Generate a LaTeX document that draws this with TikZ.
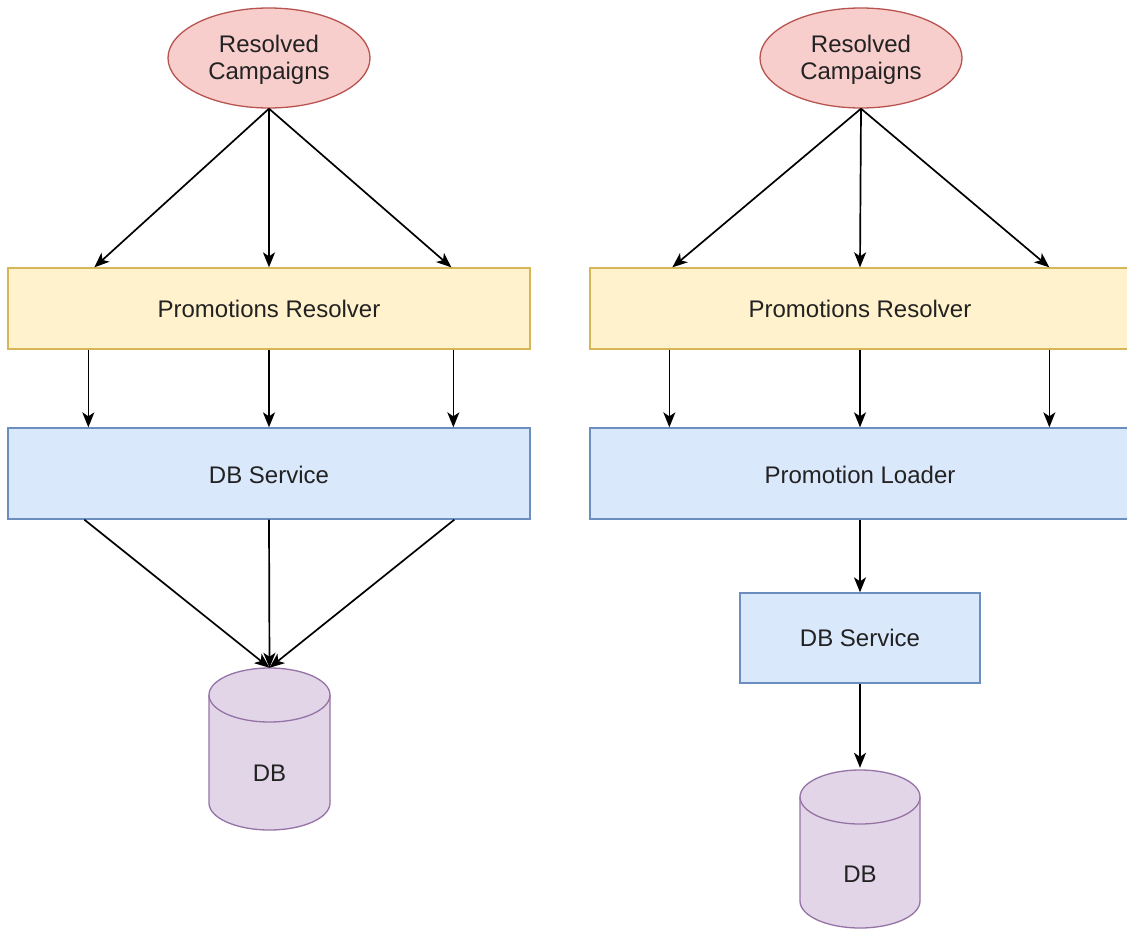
\documentclass[tikz,border=0pt]{standalone}
\usepackage{fontspec}
\setmainfont{Liberation Sans}
\usetikzlibrary{arrows.meta,calc}
\definecolor{redf}{HTML}{F8CECC}\definecolor{redd}{HTML}{B85450}
\definecolor{yelf}{HTML}{FFF2CC}\definecolor{yeld}{HTML}{D6B656}
\definecolor{bluf}{HTML}{DAE8FC}\definecolor{blud}{HTML}{6C8EBF}
\definecolor{purf}{HTML}{E1D5E7}\definecolor{purd}{HTML}{9673A6}
\definecolor{txt}{HTML}{222222}
\tikzset{
  every node/.style={font=\fontsize{24}{27}\selectfont, text=txt},
  campaign/.style={ellipse, draw=redd, fill=redf, line width=1.3pt, minimum width=202pt, minimum height=100pt, align=center, inner sep=0pt},
  resolverbox/.style={rectangle, draw=yeld, fill=yelf, line width=1.3pt, minimum height=81pt, inner sep=0pt},
  servicebox/.style={rectangle, draw=blud, fill=bluf, line width=1.3pt, inner sep=0pt},
  dbnode/.style={rectangle, minimum width=121pt, minimum height=162pt, inner sep=0pt},
  flow/.style={draw=black, line width=1.7pt, -{Stealth[length=15pt,width=12pt,inset=4pt]}},
}
\usetikzlibrary{shapes.geometric}
\newcommand{\drawcyl}[4]{% cx, top, bottom, rx (y up coordinates)
  \filldraw[draw=purd, fill=purf, line width=1.3pt]
    ({#1-#4},{#2-27}) -- ({#1-#4},{#3+27})
    arc[start angle=180, end angle=360, x radius=#4, y radius=27]
    -- ({#1+#4},{#2-27})
    arc[start angle=0, end angle=180, x radius=#4, y radius=27] -- cycle;
  \draw[draw=purd, line width=1.3pt] ({#1-#4},{#2-27})
    arc[start angle=180, end angle=360, x radius=#4, y radius=27];
}
\begin{document}
\begin{tikzpicture}[x=1pt,y=1pt]
\clip (0,0) rectangle (1127,-931);
\fill[white] (0,0) rectangle (1127,-931);

% ---------- left column ----------
\node[campaign] (rc1) at (269,-58) {};
\node at (269,-60) [align=center] {Resolved\\Campaigns};
\node[resolverbox, minimum width=522pt] (pr1) at (269,-308.5) {Promotions Resolver};
\node[servicebox, minimum width=522pt, minimum height=91pt] (ds1) at (269,-473.5) {};
\node at (269,-475) {DB Service};
\drawcyl{269.5}{-668}{-830}{60.5}
\node[dbnode] (db1) at (269.5,-749) {};
\node at (269.5,-773) {DB};

\draw[flow] (rc1.south) -- ([xshift=87pt]pr1.north west);
\draw[flow] (rc1.south) -- (pr1.north);
\draw[flow] (rc1.south) -- ([xshift=444pt]pr1.north west);

\draw[flow] ([xshift=81pt]pr1.south west) -- ([xshift=81pt]ds1.north west);
\draw[flow] (pr1.south) -- (ds1.north);
\draw[flow] ([xshift=446pt]pr1.south west) -- ([xshift=446pt]ds1.north west);

\draw[flow] ([xshift=77pt]ds1.south west) -- (db1.north);
\draw[flow] (ds1.south) -- (db1.north);
\draw[flow] ([xshift=447pt]ds1.south west) -- (db1.north);

% ---------- right column ----------
\node[campaign] (rc2) at (861,-58) {};
\node at (861,-60) [align=center] {Resolved\\Campaigns};
\node[resolverbox, minimum width=540pt] (pr2) at (860,-308.5) {};
\node at (860,-308.5) {Promotions Resolver};
\node[servicebox, minimum width=540pt, minimum height=91pt] (pl2) at (860,-473.5) {};
\node at (860,-475) {Promotion Loader};
\node[servicebox, minimum width=240pt, minimum height=90pt] (ds2) at (860,-638) {DB Service};
\drawcyl{860}{-770}{-928}{60}
\node[dbnode] (db2) at (860,-849) {};
\node at (860,-874) {DB};

\draw[flow] (rc2.south) -- ([xshift=83pt]pr2.north west);
\draw[flow] (rc2.south) -- (pr2.north);
\draw[flow] (rc2.south) -- ([xshift=460pt]pr2.north west);

\draw[flow] ([xshift=80pt]pr2.south west) -- ([xshift=80pt]pl2.north west);
\draw[flow] (pr2.south) -- (pl2.north);
\draw[flow] ([xshift=460pt]pr2.south west) -- ([xshift=460pt]pl2.north west);

\draw[flow] (pl2.south) -- (ds2.north);
\draw[flow] (ds2.south) -- (db2.north);
\end{tikzpicture}
\end{document}
